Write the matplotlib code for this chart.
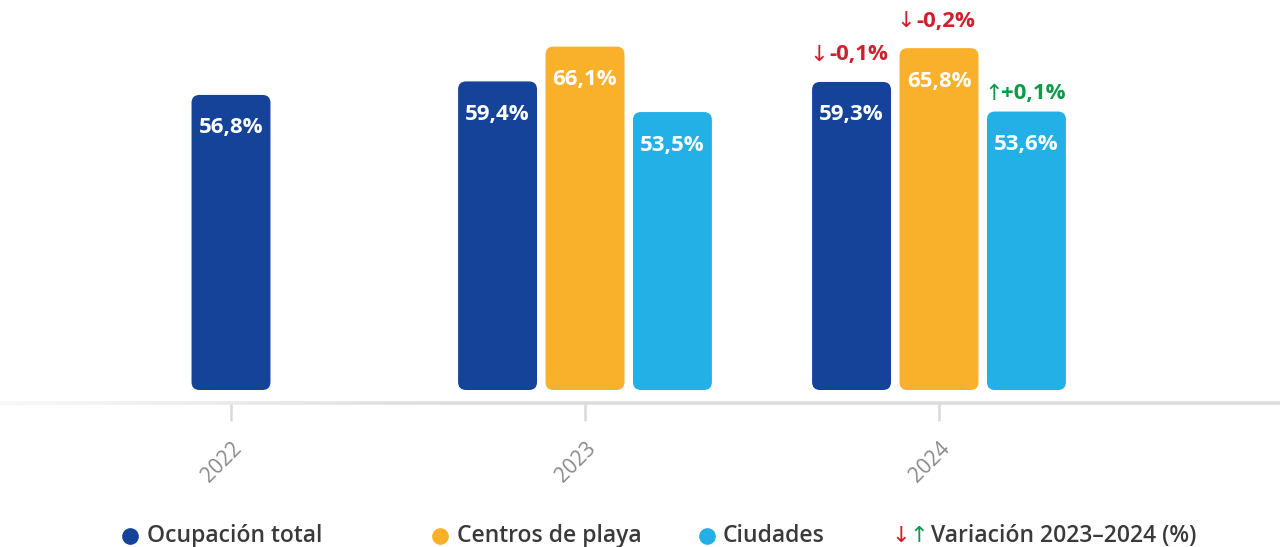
import matplotlib
matplotlib.use("Agg")
import matplotlib.pyplot as plt
import numpy as np
from matplotlib.patches import FancyBboxPatch
from matplotlib.collections import LineCollection
from matplotlib.lines import Line2D

years = ["2022", "2023", "2024"]
series = ["Ocupación total", "Centros de playa", "Ciudades"]
colors = ["#15439a", "#f9b02a", "#22b0e6"]
total = [56.8, 59.4, 59.3]
playa = [None, 66.1, 65.8]
ciudades = [None, 53.5, 53.6]
variacion = [-0.1, -0.2, 0.1]  # 2023 -> 2024, one per series

RED = "#d0202e"
GREEN = "#0e9a48"

plt.rcParams.update({"font.family": ["Open Sans", "DejaVu Sans"]})

fig = plt.figure(figsize=(12.8, 5.47), dpi=100)
ax = fig.add_axes([0, 144 / 547, 1, 403 / 547])
ax.set_xlim(-231 / 354, 1049 / 354)
ax.set_ylim(-2.5, 75.07)

step = 0.247
width = 0.223
x = np.arange(len(years))

groups = [
    (total, colors[0]),
    (playa, colors[1]),
    (ciudades, colors[2]),
]

# rounded bars, one FancyBboxPatch per bar built from ax.bar geometry
rx = 8 / 354
aspect = (8 / 5.195) / rx
tops = {}
for i, year in enumerate(years):
    present = [(s, vals[i], c) for s, (vals, c) in enumerate(groups) if vals[i] is not None]
    n = len(present)
    offsets = (np.arange(n) - (n - 1) / 2) * step
    for (s, v, c), off in zip(present, offsets):
        bar = ax.bar(x[i] + off, v, width=width, color=c)[0]
        bx, by = bar.get_x(), bar.get_y()
        bw, bh = bar.get_width(), bar.get_height()
        bar.remove()
        patch = FancyBboxPatch((bx, by), bw, bh,
                               boxstyle=f"round,pad=0,rounding_size={rx}",
                               mutation_aspect=aspect, facecolor=c,
                               edgecolor="none")
        ax.add_patch(patch)
        ax.annotate(f"{v:.1f}%".replace(".", ","), (bx + bw / 2, v),
                    xytext=(0, -33), textcoords="offset pixels",
                    ha="center", va="center", color="white",
                    fontsize=16, fontweight="bold")
        tops[(i, s)] = (bx + bw / 2, v)

# 2023-2024 variation labels above the 2024 bars
for s, d in enumerate(variacion):
    cx, v = tops[(2, s)]
    col = GREEN if d > 0 else RED
    arrow = "↑" if d > 0 else "↓"
    lift = 18 if d > 0 else 27
    label = f"{d:+.1f}%".replace(".", ",")
    ax.annotate(arrow, (cx, v), xytext=(-33, lift), textcoords="offset pixels",
                ha="center", va="center", color=col, fontsize=16,
                family="DejaVu Sans")
    ax.annotate(label, (cx, v), xytext=(7, lift), textcoords="offset pixels",
                ha="center", va="center", color=col, fontsize=16,
                fontweight="bold")

# baseline with a soft fade on the left
for sp in ax.spines.values():
    sp.set_visible(False)
xs = np.linspace(0, 1, 200)
segs = [[(a, 0), (b, 0)] for a, b in zip(xs[:-1], xs[1:])]
fade = np.clip(xs[:-1] / 0.35, 0, 1)
shade = 0.97 - 0.105 * fade
lc = LineCollection(segs, colors=[(g, g, g) for g in shade], linewidths=2.6,
                    transform=ax.transAxes, clip_on=False)
ax.add_collection(lc)

ax.set_yticks([])
ax.set_xticks(x, years)
ax.tick_params(axis="x", length=13, width=1.8, color="#d9d9d9", pad=12,
               labelsize=15, labelcolor="#8a8a8a")
for lab in ax.get_xticklabels():
    lab.set_rotation(45)
    lab.set_ha("right")
    lab.set_rotation_mode("anchor")

# legend row
ly = 11 / 547
for px, tx, name, c in zip([130, 440, 707], [147, 457, 723], series, colors):
    fig.add_artist(Line2D([px / 1280], [ly], marker="o", markersize=11,
                          color=c, linestyle="none", transform=fig.transFigure))
    fig.text(tx / 1280, ly, name, ha="left", va="center", fontsize=16.5,
             color="#3a3a3a", fontweight="semibold")
fig.text(891 / 1280, ly, "↓", ha="left", va="center", fontsize=16,
         color=RED, family="DejaVu Sans")
fig.text(909 / 1280, ly, "↑", ha="left", va="center", fontsize=16,
         color=GREEN, family="DejaVu Sans")
fig.text(931 / 1280, ly, "Variación 2023–2024 (%)", ha="left", va="center",
         fontsize=16.5, color="#3a3a3a", fontweight="semibold")

fig.savefig("out.png", dpi=100, facecolor="white")
